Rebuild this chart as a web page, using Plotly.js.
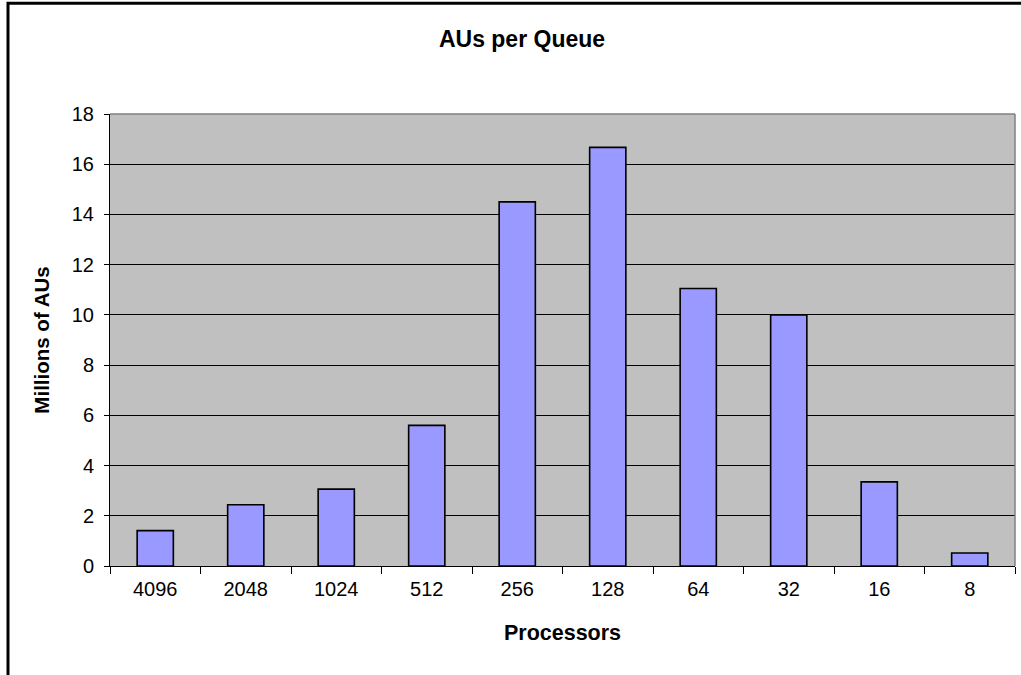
<!DOCTYPE html>
<html>
<head>
<meta charset="utf-8">
<script src="https://cdn.plot.ly/plotly-3.0.1.min.js"></script>
<style>
  html, body { margin: 0; padding: 0; background: #ffffff; overflow: hidden; }
  #chart { width: 1021px; height: 675px; }
</style>
</head>
<body>
<div id="chart"></div>
<script>
// Data
const processors = ["4096", "2048", "1024", "512", "256", "128", "64", "32", "16", "8"];
const millionsOfAUs = [1.41, 2.44, 3.06, 5.60, 14.50, 16.67, 11.05, 10.0, 3.35, 0.52];
const yTicks = [0, 2, 4, 6, 8, 10, 12, 14, 16, 18];

const FONT = "Liberation Sans, Arial, sans-serif";

const trace = {
  type: "bar",
  x: processors,
  y: millionsOfAUs,
  marker: { color: "#9999FF", line: { color: "#000000", width: 1.6 } },
  hoverinfo: "x+y"
};

const layout = {
  width: 1021,
  height: 675,
  margin: { l: 110, r: 6, t: 113.5, b: 108.5, pad: 0 },
  paper_bgcolor: "rgba(0,0,0,0)",
  plot_bgcolor: "#C0C0C0",
  bargap: 0.6,
  showlegend: false,
  font: { family: FONT, color: "#000000", size: 20 },
  title: {
    text: "AUs per Queue",
    font: { family: FONT, size: 23, color: "#000000", weight: "bold" },
    x: 522 / 1021, xref: "container", xanchor: "center",
    y: 1 - 39 / 675, yref: "container", yanchor: "middle"
  },
  xaxis: {
    type: "category",
    tickson: "boundaries",
    ticks: "outside",
    ticklen: 7,
    tickwidth: 1,
    tickcolor: "#000000",
    showline: true,
    linecolor: "#000000",
    linewidth: 1,
    showgrid: false,
    ticklabelstandoff: 5,
    tickfont: { family: FONT, size: 20, color: "#000000" },
    title: {
      text: "Processors",
      font: { family: FONT, size: 21.5, color: "#000000", weight: "bold" },
      standoff: 25
    },
    fixedrange: true
  },
  yaxis: {
    range: [0, 18],
    tickmode: "array",
    tickvals: yTicks,
    ticktext: yTicks.map(String),
    ticks: "outside",
    ticklen: 5,
    tickwidth: 1,
    tickcolor: "#000000",
    showline: true,
    linecolor: "#000000",
    linewidth: 1,
    showgrid: true,
    gridcolor: "#000000",
    gridwidth: 1,
    zeroline: false,
    ticklabelstandoff: 6,
    tickfont: { family: FONT, size: 20, color: "#000000" },
    title: {
      text: "Millions of AUs",
      font: { family: FONT, size: 20.5, color: "#000000", weight: "bold" },
      standoff: 16
    },
    fixedrange: true
  },
  shapes: [
    // gray plot-area frame on top and right
    { type: "line", xref: "paper", yref: "paper", x0: 0, x1: 1, y0: 1, y1: 1,
      line: { color: "#808080", width: 1.5 }, layer: "above" },
    { type: "line", xref: "paper", yref: "paper", x0: 1, x1: 1, y0: 0, y1: 1,
      line: { color: "#808080", width: 1.5 }, layer: "above" },
    // outer chart border (extends past the right and bottom of the picture)
    { type: "rect", xref: "paper", yref: "paper",
      x0: (8 - 110) / 905, x1: 1.2, y0: -0.5, y1: (566.5 - 2.5) / 453,
      line: { color: "#000000", width: 3 }, fillcolor: "rgba(0,0,0,0)", layer: "below" }
  ]
};

Plotly.newPlot("chart", [trace], layout, { displayModeBar: false, staticPlot: true });
</script>
</body>
</html>
